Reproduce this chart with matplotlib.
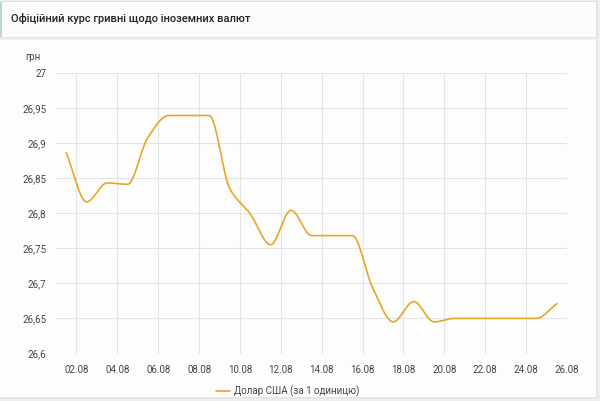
import numpy as np
import matplotlib
matplotlib.use('Agg')
import matplotlib.pyplot as plt
from matplotlib.patches import Rectangle

plt.rcParams['font.family'] = ['Roboto', 'DejaVu Sans']

# daily official rate, 01.08 - 25.08
days = list(range(1, 26))
rates = [26.886, 26.816, 26.843, 26.841, 26.908, 26.939, 26.939, 26.939,
         26.835, 26.799, 26.755, 26.804, 26.768, 26.768, 26.768, 26.693,
         26.645, 26.674, 26.645, 26.650, 26.650, 26.650, 26.650, 26.650,
         26.671]
tick_days = list(range(2, 27, 2))
tick_labels = ['%02d.08' % d for d in tick_days]
y_ticks = [26.6, 26.65, 26.7, 26.75, 26.8, 26.85, 26.9, 26.95, 27.0]
y_labels = ['26,6', '26,65', '26,7', '26,75', '26,8', '26,85', '26,9', '26,95', '27']
title = 'Офіційний курс гривні щодо іноземних валют'
series_name = 'Долар США (за 1 одиницю)'


def monotone(x, y, n=30):
    # Fritsch-Carlson monotone cubic, just for drawing the smooth line
    x = np.asarray(x, float)
    y = np.asarray(y, float)
    h = np.diff(x)
    d = np.diff(y) / h
    m = np.zeros_like(y)
    m[0], m[-1] = d[0], d[-1]
    for i in range(1, len(y) - 1):
        if d[i - 1] * d[i] <= 0:
            m[i] = 0
        else:
            w1 = 2 * h[i] + h[i - 1]
            w2 = h[i] + 2 * h[i - 1]
            m[i] = (w1 + w2) / (w1 / d[i - 1] + w2 / d[i])
    xs, ys = [], []
    for i in range(len(x) - 1):
        t = np.linspace(0, 1, n, endpoint=False)
        h00 = 2 * t**3 - 3 * t**2 + 1
        h10 = t**3 - 2 * t**2 + t
        h01 = -2 * t**3 + 3 * t**2
        h11 = t**3 - t**2
        xs.append(x[i] + t * h[i])
        ys.append(h00 * y[i] + h10 * h[i] * m[i] + h01 * y[i + 1] + h11 * h[i] * m[i + 1])
    xs.append([x[-1]])
    ys.append([y[-1]])
    return np.concatenate(xs), np.concatenate(ys)


W, H = 600, 401
fig = plt.figure(figsize=(6, 4.01), dpi=100, facecolor='#efefef')

# title card and chart card (behind the axes)
cards = [
    ((0, H - 38), 598, 37, '#e2e2e2'),
    ((0, H - 37), 596, 35, '#fcfcfc'),
    ((0, H - 37), 2, 35, '#b5dcc6'),
    ((0, 2), 598, H - 42, '#e6e6e6'),
    ((0, 4), 596, H - 44, '#fdfdfd'),
]
for i, (xy, w, h, c) in enumerate(cards):
    fig.patches.append(Rectangle(xy, w, h, transform=None, facecolor=c,
                                 edgecolor='none', zorder=-10 + i))

fig.text(11 / W, 1 - 19 / H, title, fontsize=8, fontweight='medium',
         color='#222222', va='center', ha='left')

ax = fig.add_axes([56 / W, 1 - 353.5 / H, (567 - 56) / W, (353.5 - 72.7) / H])
ax.set_facecolor('none')

xs, ys = monotone([d + 0.5 for d in days], rates)
line, = ax.plot(xs, ys, color='#e8a628', lw=1.2, solid_capstyle='round')

ax.set_xlim(1, 26)
ax.set_ylim(26.6, 27.0)
ax.set_xticks(tick_days)
ax.set_xticklabels(tick_labels)
ax.set_yticks(y_ticks)
ax.set_yticklabels(y_labels)
ax.grid(True, color='#e4e4e4', lw=0.8)
ax.set_axisbelow(True)
for s in ax.spines.values():
    s.set_visible(False)
ax.tick_params(axis='both', length=0, labelsize=7, labelcolor='#444444')
ax.tick_params(axis='x', pad=8)
ax.tick_params(axis='y', pad=7)

fig.text(25 / W, 1 - 57 / H, 'грн', fontsize=7, color='#444444', va='center')

fig.legend([line], [series_name], loc='center', bbox_to_anchor=(288 / W, 1 - 391.5 / H),
           frameon=False, fontsize=7, labelcolor='#444444', handlelength=1.4,
           handletextpad=0.5)

fig.savefig('out.png', dpi=100, facecolor=fig.get_facecolor())
